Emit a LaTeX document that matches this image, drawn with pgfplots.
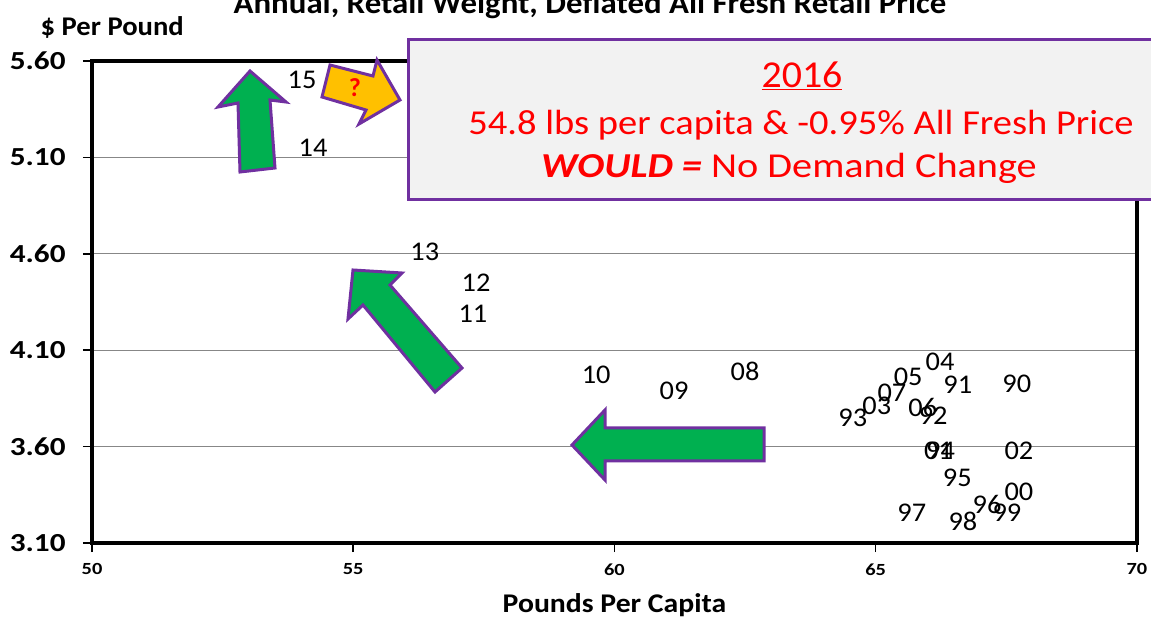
\documentclass[border=0pt]{standalone}
\usepackage{fontspec}
\setmainfont{Carlito}
\usepackage{pgfplots}
\usepackage{pgfplotstable}
\pgfplotsset{compat=1.18}

\definecolor{arrowgreen}{HTML}{00B050}
\definecolor{edgepurple}{HTML}{7030A0}
\definecolor{arroworange}{HTML}{FFC000}
\definecolor{boxgray}{HTML}{F2F2F2}
\definecolor{gridgray}{HTML}{878787}

% year labels (pounds per capita, deflated price)
\pgfplotstableread{
x y lab
54.02 5.50 15
54.23 5.15 14
56.37 4.61 13
57.35 4.45 12
57.29 4.29 11
59.65 3.97 10
61.14 3.89 09
62.50 3.99 08
65.31 3.88 07
65.90 3.805 06
65.62 3.96 05
66.23 4.04 04
65.02 3.81 03
67.74 3.58 02
66.20 3.58 01
67.74 3.365 00
67.51 3.255 99
66.67 3.21 98
65.69 3.255 97
67.13 3.30 96
66.56 3.44 95
66.24 3.58 94
64.56 3.75 93
66.10 3.76 92
66.57 3.92 91
67.70 3.925 90
}\yeardata

\begin{document}
\begin{tikzpicture}
\useasboundingbox (0,0) rectangle (1151bp,620bp);
\clip (0,0) rectangle (1151bp,620bp);
\begin{axis}[
    at={(92bp,77bp)}, anchor=south west,
    scale only axis, width=1045bp, height=482bp,
    xmin=50, xmax=70, ymin=3.1, ymax=5.6,
    xtick={50,55,60,65,70},
    ytick={3.1,3.6,4.1,4.6,5.1,5.6},
    xtick pos=bottom, ytick pos=left,
    tick align=outside, major tick length=9bp,
    tick style={line width=1.5bp, black},
    axis line style={line width=3.5bp, black},
    ymajorgrids, grid style={gridgray, line width=1bp},
    /pgf/number format/assume math mode=true,
    yticklabel style={font=\fontsize{26bp}{26bp}\selectfont\bfseries, xscale=1.2, xshift=-11bp,
      /pgf/number format/.cd, fixed, fixed zerofill, precision=2},
    xticklabel style={font=\fontsize{17bp}{17bp}\selectfont\bfseries, xscale=1.2, yshift=-8bp},
    xlabel={\textbf{Pounds Per Capita}},
    xlabel style={font=\fontsize{27bp}{27bp}\selectfont, xscale=1.1, yshift=-11bp},
  ]
  \addplot[draw=none, mark=none, nodes near coords, point meta=explicit symbolic,
    every node near coord/.append style={anchor=center, text=black, xscale=1.05,
      font=\fontsize{27bp}{27bp}\selectfont}]
    table[x=x, y=y, meta=lab] {\yeardata};
\end{axis}

\begin{scope}[x=1bp, y=-1bp, yshift=620bp]
  % title and y label
  \node[anchor=base, xscale=1.06, font=\fontsize{31bp}{31bp}\selectfont\bfseries] at (590,14)
    {Annual, Retail Weight, Deflated All Fresh Retail Price};
  \node[anchor=base west, xscale=1.06, font=\fontsize{27bp}{27bp}\selectfont\bfseries] at (37,36)
    {\$ Per Pound};

  % arrows
  \draw[edgepurple, line width=3bp, fill=arrowgreen, line join=miter]
    (240,172) -- (275,168) -- (270,100) -- (286,102) -- (250,71) -- (218,107) -- (238,103) -- cycle;
  \draw[edgepurple, line width=3bp, fill=arroworange, line join=miter]
    (330,65) -- (373,76) -- (377,60) -- (400,100) -- (359,124) -- (366,110) -- (322,97) -- cycle;
  \node[text=red, font=\fontsize{26bp}{26bp}\selectfont\bfseries] at (355,88) {?};
  \draw[edgepurple, line width=3bp, fill=arrowgreen, line join=miter]
    (353,270) -- (402,273) -- (390,285) -- (462,368) -- (435,392) -- (363,305) -- (348,319) -- cycle;
  \draw[edgepurple, line width=3bp, fill=arrowgreen, line join=miter]
    (572,445) -- (605,410) -- (605,428) -- (764,428) -- (764,461) -- (605,461) -- (605,480) -- cycle;

  % annotation box
  \draw[edgepurple, line width=3bp, fill=boxgray] (408,40) rectangle (1170,200);
  \node[anchor=base, text=red, xscale=1.05, font=\fontsize{38bp}{38bp}\selectfont] at (802,88) {\underline{2016}};
  \node[anchor=base, text=red, xscale=1.1, font=\fontsize{35bp}{35bp}\selectfont] at (801,135)
    {54.8 lbs per capita \& -0.95\% All Fresh Price};
  \node[anchor=base, text=red, xscale=1.15, font=\fontsize{35bp}{35bp}\selectfont] at (789,178)
    {\textbf{\textit{WOULD =}} No Demand Change};
\end{scope}
\end{tikzpicture}
\end{document}
